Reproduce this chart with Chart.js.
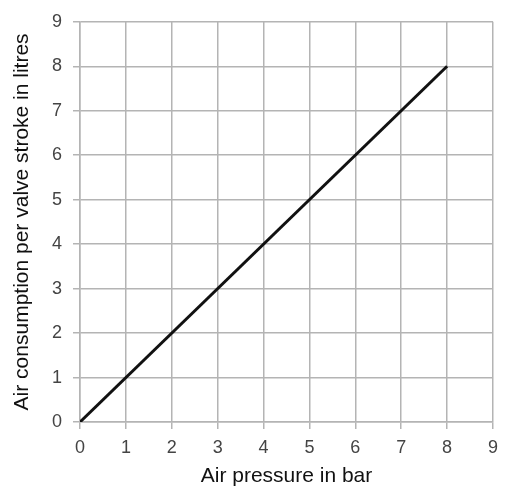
<!DOCTYPE html>
<html>
<head>
<meta charset="utf-8">
<script src="https://cdn.jsdelivr.net/npm/chart.js@4"></script>
<style>
  html, body { margin: 0; padding: 0; background: #fff; }
  #wrap { width: 506px; height: 489px; }
</style>
</head>
<body>
<div id="wrap"><canvas id="line-chart"></canvas></div>
<script>
const pressure = [0, 8];
const consumption = [0, 8];
const tickValues = [0, 1, 2, 3, 4, 5, 6, 7, 8, 9];

new Chart(document.getElementById("line-chart"), {
    type: 'line',
    data: {
        datasets: [{
            data: pressure.map((p, i) => ({ x: p, y: consumption[i] })),
            borderColor: "#111111",
            borderWidth: 3,
            pointRadius: 0,
            fill: false
        }]
    },
    options: {
        responsive: true,
        maintainAspectRatio: false,
        animation: { duration: 0 },
        layout: { padding: { top: 20, right: 6, left: 0, bottom: 0 } },
        plugins: {
            legend: { display: false },
            tooltip: { enabled: false }
        },
        scales: {
            x: {
                type: 'linear',
                min: 0,
                max: 9,
                afterBuildTicks: axis => { axis.ticks = tickValues.map(v => ({ value: v })); },
                afterFit: axis => { axis.height = 67; },
                grid: { color: "#b4b4b4", lineWidth: 1.5, tickLength: 7 },
                border: { color: "#b4b4b4", width: 1.5 },
                ticks: { color: "#444", font: { family: "Liberation Sans", size: 18 }, padding: 8 },
                title: {
                    display: true,
                    text: "Air pressure in bar",
                    color: "#111",
                    font: { family: "Liberation Sans", size: 21 },
                    padding: { top: 0, bottom: 0 }
                }
            },
            y: {
                type: 'linear',
                min: 0,
                max: 9,
                afterBuildTicks: axis => { axis.ticks = tickValues.map(v => ({ value: v })); },
                afterFit: axis => { axis.width = 80; },
                grid: { color: "#b4b4b4", lineWidth: 1.5, tickLength: 7 },
                border: { color: "#b4b4b4", width: 1.5 },
                ticks: { color: "#444", font: { family: "Liberation Sans", size: 18 }, padding: 11 },
                title: {
                    display: true,
                    text: "Air consumption per valve stroke in litres",
                    color: "#111",
                    font: { family: "Liberation Sans", size: 21 },
                    padding: { top: 10, bottom: 0 }
                }
            }
        }
    }
});
</script>
</body>
</html>
